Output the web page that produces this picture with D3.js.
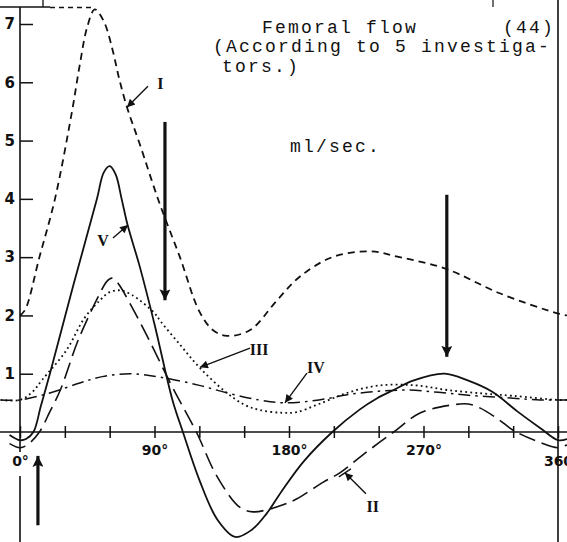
<!DOCTYPE html>
<html>
<head>
<meta charset="utf-8">
<script src="https://cdn.jsdelivr.net/npm/d3@7/dist/d3.min.js"></script>
<style>
  body { margin: 0; background: #fff; }
  svg { display: block; }
</style>
</head>
<body>
<svg id="chart" width="567" height="542"></svg>
<script>
// Femoral flow (ml/sec) over one cardiac cycle, phase angle in degrees.
// Each curve is one investigator's record: [degrees, ml/sec].
const curveI = [[0,2.0],[3.5,2.1],[13,3.0],[23.4,4.0],[34.8,5.5],[40,6.3],[45,6.95],[50,7.25],
  [56,7.05],[62,6.55],[66,6.1],[71.6,5.57],[80,4.95],[93,3.95],[107,3.0],[120,2.07],[129,1.75],
  [138.5,1.65],[154,1.75],[172,2.26],[187,2.66],[209,3.0],[234,3.1],[254,3.0],[285,2.8],
  [321,2.38],[359,2.04],[366,2.0]];
const curveII = [[-7,-0.2],[0,-0.27],[5,-0.22],[13,0],[20,0.35],[27,0.72],[39,1.58],[53.5,2.38],
  [58,2.58],[61.5,2.64],[64,2.6],[67,2.5],[82,1.8],[102,0.77],[118,0],[132,-0.77],[147,-1.29],
  [156,-1.37],[166,-1.33],[176,-1.25],[185,-1.15],[203,-0.86],[214,-0.7],[229,-0.4],[250,0],
  [268,0.33],[288,0.46],[300,0.48],[308,0.41],[320,0.22],[330,0.03],[345,-0.15],[360,-0.27],[366,-0.22]];
const curveIII = [[-13,0.55],[0,0.55],[8,0.68],[15,0.9],[31,1.4],[43,1.95],[53.5,2.26],[60,2.4],
  [67,2.43],[75,2.35],[90,2.04],[94,1.9],[107,1.5],[120,1.11],[137,0.7],[150,0.47],[160,0.38],
  [175,0.33],[185,0.34],[200,0.48],[220,0.68],[241,0.8],[265,0.8],[286,0.72],[310,0.66],
  [330,0.62],[360,0.55],[366,0.55]];
const curveIV = [[-13,0.55],[0,0.55],[20,0.67],[40,0.84],[55,0.95],[74,1.0],[94,0.94],[120,0.8],
  [140,0.66],[160,0.55],[177,0.5],[200,0.55],[219,0.64],[240,0.7],[260,0.72],[280,0.68],
  [300,0.63],[330,0.58],[348,0.55],[360,0.55],[366,0.55]];
const curveV = [[-7,-0.05],[0,-0.14],[4,-0.12],[9,0],[14,0.45],[20,1.0],[35.5,2.5],[51.5,4.0],
  [56,4.45],[60,4.56],[64,4.42],[68,4.0],[72,3.55],[80,2.85],[90,1.85],[102,0.55],[109,0],
  [120,-0.82],[132,-1.5],[144,-1.8],[155,-1.68],[165,-1.4],[175,-1.02],[190,-0.5],[209,0],
  [227,0.38],[239,0.58],[250,0.72],[263,0.88],[284,1.0],[300,0.88],[316,0.69],[333,0.35],
  [348,0.07],[360,-0.14],[366,-0.12]];

const yTickValues = [1, 2, 3, 4, 5, 6, 7];
const xTickValues = d3.range(0, 361, 30);
const xTickLabels = { 0: "0°", 90: "90°", 180: "180°", 270: "270°", 360: "360" };

// Curve names, the point their pointer touches, the pointer tail and the name position (deg, ml/sec)
const curveNames = [
  { text: "I",   tip: [71.6, 5.57], tail: [85.6, 5.93], at: [94, 5.98] },
  { text: "V",   tip: [72.3, 3.55], tail: [62.2, 3.33], at: [55.5, 3.28] },
  { text: "III", tip: [120.4, 1.11], tail: [153.9, 1.44], at: [160, 1.42] },
  { text: "IV",  tip: [177.3, 0.5], tail: [192, 1.01], at: [198, 1.1] },
  { text: "II",  tip: [217.4, -0.7], tail: [231.5, -1.06], at: [236, -1.27] }
];
// Heavy phase arrows: [deg, from ml/sec, to ml/sec]
const phaseArrows = [[97, 5.32, 2.26], [285.6, 4.07, 1.29], [12, -1.6, -0.41]];

const svg = d3.select("#chart");
const x = d3.scaleLinear().domain([0, 360]).range([20, 558]);
const y = d3.scaleLinear().domain([0, 7]).range([432, 24]);

const ink = "#111";

// frame lines
svg.append("line").attr("x1", 20).attr("x2", 20).attr("y1", 7).attr("y2", 452)
  .attr("stroke", ink).attr("stroke-width", 1.6);
svg.append("line").attr("x1", 20).attr("x2", 20).attr("y1", 476).attr("y2", 542)
  .attr("stroke", ink).attr("stroke-width", 1.6);
svg.append("line").attr("x1", x(360)).attr("x2", x(360)).attr("y1", 0).attr("y2", 542)
  .attr("stroke", ink).attr("stroke-width", 1.6);
svg.append("line").attr("x1", 0).attr("x2", 50).attr("y1", 7).attr("y2", 7)
  .attr("stroke", ink).attr("stroke-width", 1.5);
svg.append("line").attr("x1", 50).attr("x2", x(50)).attr("y1", 7.5).attr("y2", 7.5)
  .attr("stroke", ink).attr("stroke-width", 1.3).attr("stroke-dasharray", "5,4");
svg.append("line").attr("x1", 43).attr("x2", 43).attr("y1", 0).attr("y2", 7)
  .attr("stroke", ink).attr("stroke-width", 1.3);
svg.append("line").attr("x1", 493).attr("x2", 493).attr("y1", 0).attr("y2", 7)
  .attr("stroke", ink).attr("stroke-width", 1.2);

// y axis: ticks point inward, bold figures outside
const yAxis = svg.append("g").attr("transform", "translate(20,0)")
  .call(d3.axisLeft(y).tickValues(yTickValues).tickFormat(d3.format("d"))
    .tickSize(-13).tickSizeOuter(0).tickPadding(5));
yAxis.select(".domain").remove();
yAxis.selectAll(".tick line").attr("stroke", ink).attr("stroke-width", 1.5);
yAxis.selectAll(".tick text").attr("fill", ink)
  .style("font-family", "'DejaVu Sans', sans-serif").style("font-weight", "bold").style("font-size", "15px");

// x axis (zero line) across the full width, ticks every 30 degrees
svg.append("line").attr("x1", 0).attr("x2", 567).attr("y1", y(0)).attr("y2", y(0))
  .attr("stroke", ink).attr("stroke-width", 1.6);
const xAxis = svg.append("g").attr("transform", `translate(0,${y(0)})`)
  .call(d3.axisBottom(x).tickValues(xTickValues).tickSize(6).tickSizeOuter(0).tickPadding(7)
    .tickFormat(d => xTickLabels[d] || ""));
xAxis.select(".domain").remove();
xAxis.selectAll(".tick line").attr("y1", -6).attr("y2", 6).attr("stroke", ink).attr("stroke-width", 1.5);
xAxis.selectAll(".tick text").attr("fill", ink)
  .style("font-family", "'DejaVu Sans', sans-serif").style("font-weight", "bold").style("font-size", "14px");
xAxis.selectAll(".tick").filter(d => d === 0 || d === 360).select("text").attr("y", 24);

// curves
const line = d3.line().x(d => x(d[0])).y(d => y(d[1])).curve(d3.curveCatmullRom.alpha(0.5));
const series = [
  { data: curveI, dash: "7,5", w: 1.8 },
  { data: curveII, dash: "17,7", w: 1.6 },
  { data: curveIII, dash: "1.8,3.2", w: 1.8 },
  { data: curveIV, dash: "12,5,2.5,5", w: 1.5 },
  { data: curveV, dash: null, w: 1.8 }
];
svg.append("g").selectAll("path").data(series).join("path")
  .attr("d", d => line(d.data))
  .attr("fill", "none").attr("stroke", ink)
  .attr("stroke-width", d => d.w)
  .attr("stroke-dasharray", d => d.dash);

// arrowheads
const defs = svg.append("defs");
defs.append("marker").attr("id", "small").attr("viewBox", "0 0 10 10")
  .attr("refX", 10).attr("refY", 5).attr("markerWidth", 10).attr("markerHeight", 8)
  .attr("markerUnits", "userSpaceOnUse").attr("orient", "auto")
  .append("path").attr("d", "M0,0L10,5L0,10Z").attr("fill", ink);
defs.append("marker").attr("id", "big").attr("viewBox", "0 0 10 10")
  .attr("refX", 10).attr("refY", 5).attr("markerWidth", 26).attr("markerHeight", 11)
  .attr("markerUnits", "userSpaceOnUse").attr("orient", "auto")
  .append("path").attr("d", "M0,0L10,5L0,10L2,5Z").attr("fill", ink);

// curve names with pointers
const names = svg.append("g");
curveNames.forEach(n => {
  names.append("line")
    .attr("x1", x(n.tail[0])).attr("y1", y(n.tail[1]))
    .attr("x2", x(n.tip[0])).attr("y2", y(n.tip[1]))
    .attr("stroke", ink).attr("stroke-width", 1.4).attr("marker-end", "url(#small)");
  names.append("text").attr("x", x(n.at[0])).attr("y", y(n.at[1]))
    .attr("text-anchor", "middle").attr("dominant-baseline", "central")
    .attr("fill", ink)
    .style("font-family", "'Liberation Serif', serif").style("font-weight", "bold").style("font-size", "16px")
    .text(n.text);
});
// cross-bar at the tip of the II pointer
{
  const n = curveNames[4];
  const tx = x(n.tip[0]), ty = y(n.tip[1]);
  names.append("line").attr("x1", tx - 6).attr("y1", ty + 4).attr("x2", tx + 6).attr("y2", ty - 4)
    .attr("stroke", ink).attr("stroke-width", 1.4);
}

// heavy phase arrows
svg.append("g").selectAll("line").data(phaseArrows).join("line")
  .attr("x1", d => x(d[0])).attr("x2", d => x(d[0]))
  .attr("y1", d => y(d[1])).attr("y2", d => y(d[2]))
  .attr("stroke", ink).attr("stroke-width", 3.2).attr("marker-end", "url(#big)");

// typed captions (typewriter pitch ~13px)
const mono = "'Liberation Mono', 'DejaVu Sans Mono', monospace";
const captions = [
  { t: "Femoral flow", x: 262, y: 33, anchor: "start" },
  { t: "(44)", x: 555, y: 33, anchor: "end" },
  { t: "(According to 5 investiga-", x: 213, y: 52, anchor: "start" },
  { t: "tors.)", x: 222, y: 72, anchor: "start" },
  { t: "ml/sec.", x: 290, y: 152, anchor: "start" }
];
svg.append("g").selectAll("text").data(captions).join("text")
  .attr("x", d => d.x).attr("y", d => d.y).attr("fill", ink)
  .attr("text-anchor", d => d.anchor)
  .style("font-family", mono).style("font-size", "18px").style("letter-spacing", "2.2px")
  .text(d => d.t);
</script>
</body>
</html>
